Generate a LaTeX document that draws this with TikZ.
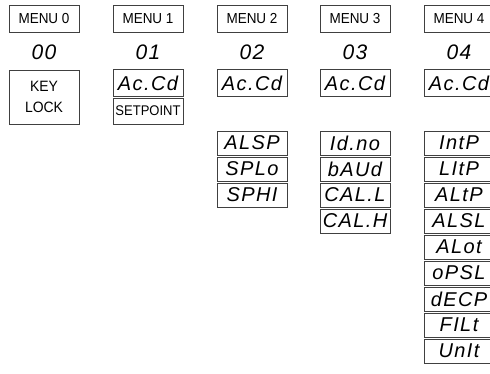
\documentclass[tikz,border=0pt]{standalone}
\usepackage{fontspec}
\setmainfont{Liberation Sans}[FakeStretch=0.93]
\newfontfamily\segfont{Liberation Sans}[LetterSpace=7]
\tikzset{
  menubox/.style={draw=black!75,line width=0.7pt,minimum width=70pt,minimum height=27pt,inner sep=0pt,font=\fontsize{14.5}{15}\selectfont},
  segbox/.style={draw=black!75,line width=0.7pt,minimum width=70pt,minimum height=24pt,inner sep=0pt,font=\segfont\itshape\fontsize{20}{22}\selectfont},
  segnum/.style={inner sep=0pt,font=\segfont\itshape\fontsize{21}{22}\selectfont}
}

\begin{document}
\begin{tikzpicture}[x=1pt,y=-1pt]
			\useasboundingbox (0,0) rectangle (490,374);
			% menu headers
			\node[menubox] (menu0) at (44,18.5) {MENU 0};
			\node[menubox] (menu1) at (148,18.5) {MENU 1};
			\node[menubox] (menu2) at (252,18.5) {MENU 2};
			\node[menubox] (menu3) at (355,18.5) {MENU 3};
			\node[menubox] (menu4) at (459,18.5) {MENU 4};
			\node[segnum] (num0) at (44,52) {00};
			\node[segnum] (num1) at (148,52) {01};
			\node[segnum] (num2) at (252,52) {02};
			\node[segnum] (num3) at (355,52) {03};
			\node[segnum] (num4) at (459,52) {04};
			% first row
			\node[menubox,minimum height=54pt,align=center,font=\fontsize{15}{21}\selectfont] (keylock) at (44,97) {KEY\\LOCK};
			\node[segbox,minimum height=27pt] (acc1) at (148,83) {Ac.Cd};
			\node[menubox,minimum height=26pt,font=\fontsize{14}{15}\selectfont] (setpt) at (148,111) {SETPOINT};
			\node[segbox,minimum height=27pt] (acc2) at (252,83) {Ac.Cd};
			\node[segbox,minimum height=27pt] (acc3) at (355,83) {Ac.Cd};
			\node[segbox,minimum height=27pt] (acc4) at (459,83) {Ac.Cd};
			% menu 2
			\node[segbox] (alsp) at (252,143) {ALSP};
			\node[segbox] (splo) at (252,169) {SPLo};
			\node[segbox] (sphi) at (252,195) {SPHI};
			% menu 3
			\node[segbox] (idno) at (355,143) {Id.no};
			\node[segbox] (baud) at (355,169) {bAUd};
			\node[segbox] (call) at (355,195) {CAL.L};
			\node[segbox] (calh) at (355,221) {CAL.H};
			% menu 4
			\node[segbox] (intp) at (459,143) {IntP};
			\node[segbox] (litp) at (459,169) {LItP};
			\node[segbox] (altp) at (459,195) {ALtP};
			\node[segbox] (alsl) at (459,221) {ALSL};
			\node[segbox] (alot) at (459,247) {ALot};
			\node[segbox] (opsl) at (459,273) {oPSL};
			\node[segbox] (decp) at (459,299) {dECP};
			\node[segbox] (filt) at (459,325) {FILt};
			\node[segbox] (unit) at (459,351) {UnIt};
		\end{tikzpicture}
\end{document}
